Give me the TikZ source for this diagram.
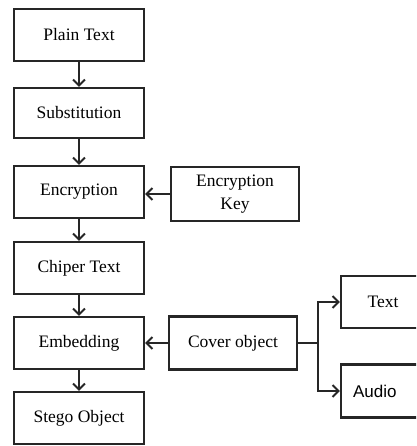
\documentclass[tikz,border=0pt]{standalone}
\usepackage{fontspec}
\setmainfont{Liberation Serif}
\newfontfamily\sansf{Liberation Sans}
\usetikzlibrary{arrows.meta}
\begin{document}
\begin{tikzpicture}[x=1pt,y=-1pt,
  box/.style={draw=black!85,line width=2.1pt,inner sep=0pt,minimum width=130pt,minimum height=52pt,font=\fontsize{17.5}{23}\selectfont,align=center},
  arr/.style={draw=black!85,line width=2pt,-{Straight Barb[length=6pt,width=12pt,line width=2pt]}}]
\clip (0,0) rectangle (416,446);
\fill[white] (0,0) rectangle (416,446);
\node[box] (pt) at (79,35) {Plain Text};
\node[box,minimum height=50pt] (sub) at (79,113) {Substitution};
\node[box] (enc) at (79,192) {Encryption};
\node[box] (cip) at (79,268) {Chiper Text};
\node[box] (emb) at (79,343) {Embedding};
\node[box] (sto) at (79,418) {Stego Object};
\node[box,minimum width=128pt,minimum height=54pt] (key) at (235,194) {Encryption\\Key};
\node[box,minimum width=128pt,minimum height=53pt] (cov) at (233,343) {Cover object};
\node[box,minimum width=84pt] (txt) at (383,302) {Text};
\node[box,minimum width=84pt,minimum height=53pt,text width=60pt,align=left,inner xsep=12pt,font=\sansf\fontsize{17}{22}\selectfont] (aud) at (383,391) {Audio};
\coordinate (br) at (318,343);
\draw[arr] (pt) -- (sub);
\draw[arr] (sub) -- (enc);
\draw[arr] (enc) -- (cip);
\draw[arr] (cip) -- (emb);
\draw[arr] (emb) -- (sto);
\draw[arr] (key.west) -- (enc.east |- key.west);
\draw[arr] (cov) -- (emb);
\draw[draw=black!85,line width=2pt] (cov.east) -- (br);
\draw[arr] (br) |- (txt.west);
\draw[arr] (br) |- (aud.west);
\end{tikzpicture}
\end{document}
